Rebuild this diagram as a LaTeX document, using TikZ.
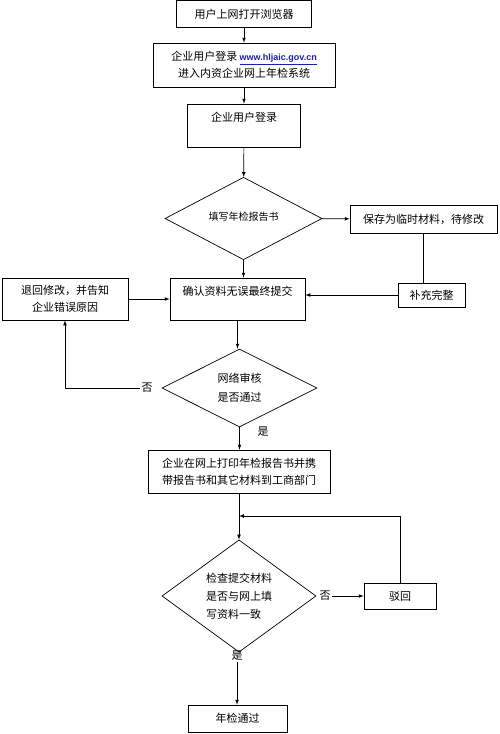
\documentclass[tikz,border=0pt]{standalone}
\usepackage{fontspec}
\usepackage{tikz}
\usetikzlibrary{arrows,calc,positioning,shapes.geometric}
\setmainfont{Liberation Serif}
\newfontfamily\cjk{Noto Sans CJK SC}
\newfontfamily\urlfont{Liberation Sans}
\definecolor{linkblue}{RGB}{30,30,170}
\tikzset{%
	block/.style    = {draw, rectangle, inner sep=0pt, align=center, font=\cjk\fontsize{11}{17}\selectfont},
	decision/.style = {draw, diamond, inner sep=0pt, align=center, font=\cjk\fontsize{10}{17}\selectfont}, % Check
	tag/.style      = {inner sep=1pt, font=\cjk\fontsize{11}{13}\selectfont}, % Yes / no
	waypoint/.style = {coordinate},
	arrow/.style    = {-latex},
}

\begin{document}
\begin{tikzpicture}[x=1pt, y=-1pt, line width=0.7pt]
	\useasboundingbox (0,0) rectangle (500,734);
	\node[block, minimum width=135pt, minimum height=27pt] (browser) at (244,14) {用户上网打开浏览器};
	\node[block, minimum width=182pt, minimum height=44pt] (site) at (244,65) {企业用户登录 {\urlfont\bfseries\fontsize{9}{17}\selectfont\color{linkblue}\underline{www.hljaic.gov.cn}}\\进入内资企业网上年检系统};
	\node[block, minimum width=113pt, minimum height=43pt, label={[tag, anchor=north, yshift=-7pt]north:企业用户登录}] (login) at (244,125.5) {};
	\node[decision, minimum width=157pt, minimum height=61pt] (fill) at (243.5,218.5) {\raisebox{4pt}{填写年检报告书}};
	\node[block, minimum width=147pt, minimum height=28pt] (draft) at (423.5,219) {保存为临时材料，待修改};
	\node[block, minimum width=67pt, minimum height=24pt] (amend) at (431.5,295) {补充完整};
	\node[block, minimum width=135pt, minimum height=42pt, label={[tag, anchor=north, yshift=-7pt]north:确认资料无误最终提交}] (submit) at (237.5,299) {};
	\node[block, minimum width=126pt, minimum height=42pt] (reject) at (65,299) {退回修改，并告知\\企业错误原因};
	\node[decision, minimum width=155pt, minimum height=78pt, font=\cjk\fontsize{11}{19}\selectfont] (audit) at (239.5,388) {网络审核\\是否通过};
	\node[tag] (no1) at (147,388) {否};
	\node[tag] (yes1) at (263,432) {是};
	\node[block, minimum width=182pt, minimum height=43pt] (print) at (239,471.5) {企业在网上打印年检报告书并携\\带报告书和其它材料到工商部门};
	\node[waypoint] (wp) at (239,516) {};
	\node[decision, minimum width=154pt, minimum height=105pt, align=left, font=\cjk\fontsize{11}{18}\selectfont] (check) at (239,596) {检查提交材料\\是否与网上填\\写资料一致};
	\node[tag] (no2) at (325,596) {否};
	\node[block, minimum width=72pt, minimum height=26pt] (turn) at (400,596) {驳回};
	\node[tag] (yes2) at (237,656) {是};
	\node[block, minimum width=99pt, minimum height=27pt] (pass) at (237.5,718.5) {年检通过};

	\draw[arrow] (browser) -- (site);
	\draw[arrow] (site) -- (login);
	\draw[arrow] (login) -- (fill);
	\draw[arrow] (fill) -- (draft);
	\draw (draft.south) -- (draft.south |- amend.north);
	\draw[arrow] (amend) -- (amend -| submit.east);
	\draw[arrow] (fill) -- (fill |- submit.north);
	\draw[arrow] (reject) -- (submit);
	\draw[arrow] (submit) -- (submit |- audit.north);
	\draw[arrow] (no1) -| (reject);
	\draw[arrow] (audit) -- (audit |- print.north);
	\draw[arrow] (print) -- (check);
	\draw[arrow] (turn) |- (wp);
	\draw[arrow] (no2) -- (turn);
	\draw[arrow] (yes2) -- (yes2 |- pass.north);
\end{tikzpicture}
\end{document}
